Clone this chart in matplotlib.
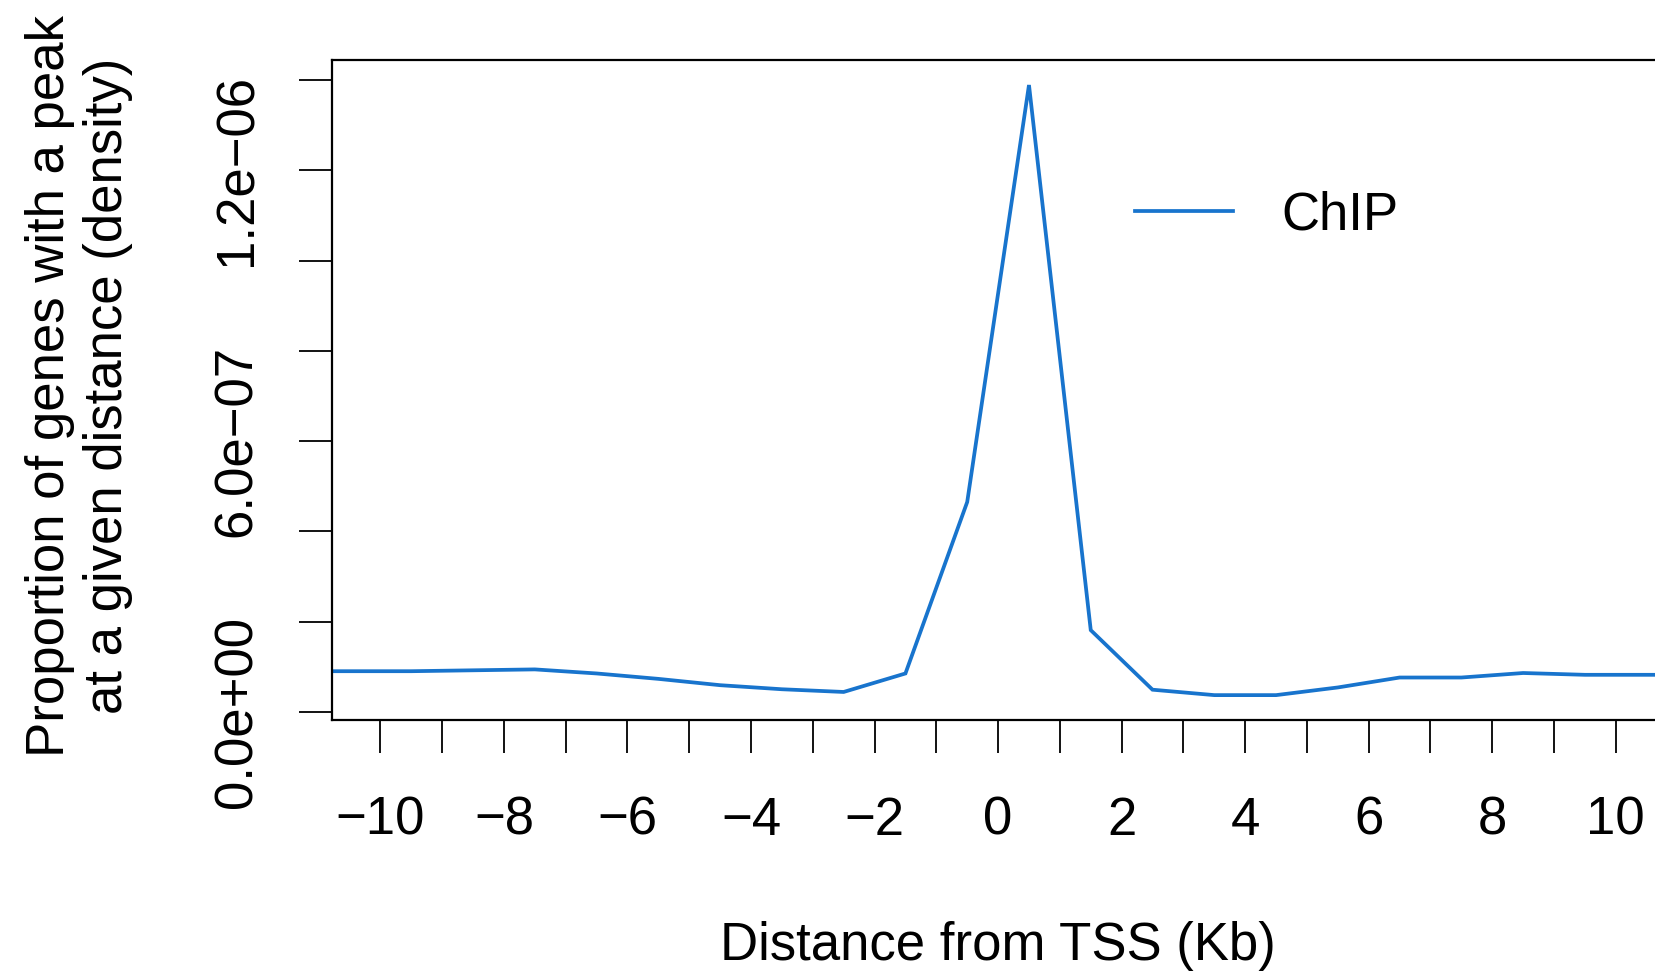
import matplotlib
matplotlib.use("Agg")
import matplotlib.pyplot as plt

plt.rcParams['font.family'] = ['Liberation Sans', 'DejaVu Sans']

# bin midpoints (Kb) and density
distance_kb = [-11.5, -10.5, -9.5, -8.5, -7.5, -6.5, -5.5, -4.5, -3.5, -2.5, -1.5,
               -0.5, 0.5, 1.5, 2.5, 3.5, 4.5, 5.5, 6.5, 7.5, 8.5, 9.5, 10.5, 11.5]
density = [0.90e-7, 0.90e-7, 0.90e-7, 0.92e-7, 0.94e-7, 0.85e-7, 0.73e-7, 0.59e-7,
           0.50e-7, 0.44e-7, 0.85e-7, 4.65e-7, 13.89e-7, 1.81e-7, 0.49e-7, 0.37e-7,
           0.37e-7, 0.54e-7, 0.76e-7, 0.76e-7, 0.86e-7, 0.82e-7, 0.82e-7, 0.82e-7]

x_ticks = list(range(-10, 11))
x_tick_labels = [str(t) if t % 2 == 0 else '' for t in x_ticks]
x_tick_labels = [lab.replace('-', '\u2212') for lab in x_tick_labels]
y_ticks = [0, 2e-7, 4e-7, 6e-7, 8e-7, 1.0e-6, 1.2e-6, 1.4e-6]
y_tick_labels = ['0.0e+00', '', '', '6.0e\u221207', '', '', '1.2e\u221206', '']

line_color = '#1874CD'
fs = 38

fig = plt.figure(figsize=(16.56, 9.76), dpi=100)
W, H = 1656, 976
left, top, bottom, right = 331.6, 60.2, 720.3, 1664.6
ax = fig.add_axes([left / W, 1 - bottom / H, (right - left) / W, (bottom - top) / H])

ax.plot(distance_kb, density, color=line_color, linewidth=2.7, label='ChIP',
        solid_joinstyle='miter')

ax.set_xlim(-10.79, 10.79)
ax.set_ylim(-1.88e-8, 1.444e-6)

ax.set_xticks(x_ticks)
ax.set_xticklabels(x_tick_labels, fontsize=fs)
ax.set_yticks(y_ticks)
ax.set_yticklabels(y_tick_labels, fontsize=fs, rotation=90, va='center')

ax.tick_params(axis='both', direction='out', length=23.5, width=1.3)
ax.tick_params(axis='x', pad=31)
ax.tick_params(axis='y', pad=26.5)

for sp in ax.spines.values():
    sp.set_linewidth(1.6)

fig.text(79 / W, 1 - 386 / H,
         'Proportion of genes with a peak\nat a given distance (density)',
         rotation=90, ha='center', va='center', multialignment='center',
         fontsize=fs, linespacing=1.2)
fig.text(998 / W, 1 - 946 / H, 'Distance from TSS (Kb)',
         ha='center', va='center', fontsize=fs)

ax.legend(loc='center left', bbox_to_anchor=(1135 / W, 1 - 215 / H),
          bbox_transform=fig.transFigure, frameon=False, fontsize=fs,
          handlelength=1.85, handletextpad=0.92, borderpad=0, borderaxespad=0)

fig.savefig('out.png', dpi=100)
